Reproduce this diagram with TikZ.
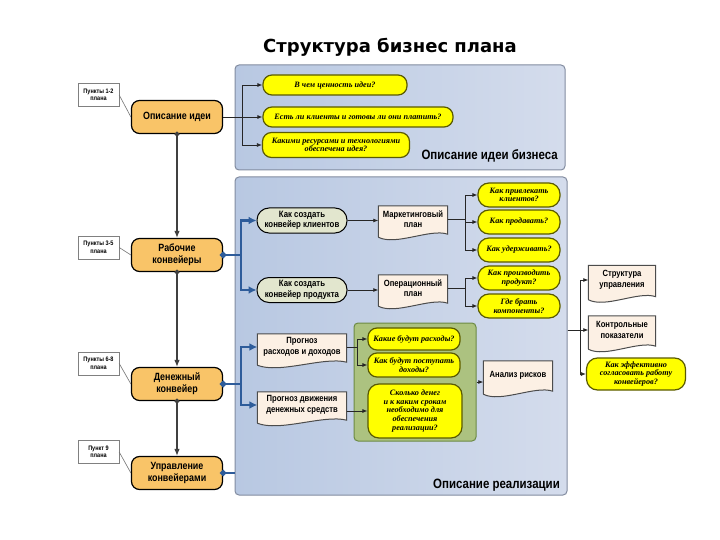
\documentclass[tikz,border=0pt]{standalone}
\usepackage{fontspec}
\setmainfont{Liberation Sans}
\newfontfamily\boxfont[FakeStretch=0.85]{Liberation Sans}
\newfontfamily\askfont{Liberation Serif}
\newfontfamily\titlefont{DejaVu Sans}
\usetikzlibrary{arrows.meta,calc}

\definecolor{stageorange}{RGB}{249,196,104}
\definecolor{askyellow}{RGB}{255,255,0}
\definecolor{askline}{RGB}{90,90,0}
\definecolor{pillfill}{RGB}{226,230,206}
\definecolor{docfill}{RGB}{252,240,228}
\definecolor{panelL}{RGB}{184,200,226}
\definecolor{panelR}{RGB}{212,220,236}
\definecolor{panelline}{RGB}{130,140,160}
\definecolor{cashgreen}{RGB}{172,194,128}
\definecolor{cashline}{RGB}{108,138,68}
\definecolor{flowblue}{RGB}{46,92,154}

% document box: rectangle with a wavy lower edge
\newcommand\docnode[4][]{%
  \node[docbox,#1] (#2) at (#3) {#4};
  \fill[docfill] ([yshift=0.5pt]#2.south west) -- ([yshift=0.5pt]#2.south east)
    -- ([yshift=-2pt]#2.south east)
    .. controls ([yshift=4pt]$(#2.south)!0.5!(#2.south east)$)
       and ([yshift=-14pt]$(#2.south)!0.5!(#2.south west)$) .. ([yshift=-5pt]#2.south west) -- cycle;
  \draw[docline] ([yshift=-5pt]#2.south west) -- (#2.north west) -- (#2.north east)
    -- ([yshift=-2pt]#2.south east)
    .. controls ([yshift=4pt]$(#2.south)!0.5!(#2.south east)$)
       and ([yshift=-14pt]$(#2.south)!0.5!(#2.south west)$) .. ([yshift=-5pt]#2.south west);
}

\begin{document}
\begin{tikzpicture}[x=1pt,y=-1pt,>=Latex,
  stage/.style={rectangle,rounded corners=8pt,draw=black,line width=1.2pt,fill=stageorange,
    minimum width=91pt,minimum height=33pt,inner sep=1pt,align=center,
    font=\boxfont\bfseries\fontsize{10.5}{12}\selectfont},
  note/.style={rectangle,draw=black!50,fill=white,minimum width=41pt,minimum height=23pt,
    inner sep=0pt,align=center,font=\boxfont\bfseries\fontsize{6.5}{7.5}\selectfont},
  ask/.style={rectangle,rounded corners=9pt,draw=askline,line width=1.2pt,fill=askyellow,
    minimum height=20pt,inner sep=1pt,align=center,
    font=\askfont\bfseries\itshape\fontsize{8.2}{8.6}\selectfont},
  pill/.style={rectangle,rounded corners=12pt,draw=black,line width=1pt,fill=pillfill,
    minimum width=90pt,minimum height=25pt,inner sep=1pt,align=center,
    font=\boxfont\bfseries\fontsize{9.2}{10.5}\selectfont},
  docbox/.style={rectangle,fill=docfill,minimum width=69pt,minimum height=26pt,
    inner sep=1pt,align=center,font=\boxfont\bfseries\fontsize{9}{10.5}\selectfont},
  docline/.style={draw=black!70,line width=1pt},
  panel/.style={rectangle,rounded corners=4pt,draw=panelline,line width=1pt,
    left color=panelL,right color=panelR},
  paneltitle/.style={inner sep=0pt,font=\boxfont\bfseries\fontsize{13.5}{15}\selectfont},
  link/.style={draw=black!85,line width=0.8pt,-{Latex[length=5pt,width=4pt]}},
  chain/.style={draw=black!75,line width=1.1pt,shorten <=-2.5pt,
    {Circle[length=5pt]}-{Latex[length=7pt,width=5.5pt]}},
  bluelink/.style={draw=flowblue,line width=2.6pt,shorten <=-3pt,
    {Circle[length=6pt]}-{Latex[length=8pt,width=8pt]}},
  noteline/.style={draw=black!55,line width=0.6pt}]

\fill[white] (0,0) rectangle (720,540);
\useasboundingbox (0,0) rectangle (720,540);

\node[font=\titlefont\bfseries\fontsize{18}{20}\selectfont] (title) at (390,47) {Структура бизнес плана};

% panels
\node[panel,minimum width=330pt,minimum height=105pt] (ideapanel) at (400,117.5) {};
\node[panel,minimum width=332pt,minimum height=318pt] (implpanel) at (401,336) {};
\node[paneltitle,anchor=base east] (ideatitle) at (558,160) {Описание идеи бизнеса};
\node[paneltitle,anchor=base east] (impltitle) at (560,488) {Описание реализации};
\node[rectangle,rounded corners=4pt,draw=cashline,line width=1pt,fill=cashgreen,
  minimum width=122pt,minimum height=118pt] (cashpanel) at (415,382) {};

% stages
\node[stage] (idea) at (177,117) {Описание идеи};
\node[stage] (work) at (177,255) {Рабочие\\конвейеры};
\node[stage] (money) at (177,384) {Денежный\\конвейер};
\node[stage] (mgmt) at (177,473) {Управление\\конвейерами};

\node[note] (n1) at (98.5,95) {Пункты 1-2\\плана};
\node[note] (n2) at (98.5,247.5) {Пункты 3-5\\плана};
\node[note] (n3) at (98.5,363.5) {Пункты 6-8\\плана};
\node[note] (n4) at (98.5,452) {Пункт 9\\плана};

% idea questions
\node[ask,minimum width=144pt] (q1) at (335,85) {В чем ценность идеи?};
\node[ask,minimum width=190pt] (q2) at (358,117) {Есть ли клиенты и готовы ли они платить?};
\node[ask,minimum width=147pt,minimum height=25pt] (q3) at (336,145) {Какими ресурсами и технологиями\\обеспечена идея?};

% working conveyors
\node[pill] (pill1) at (302,220.5) {Как создать\\конвейер клиентов};
\node[pill] (pill2) at (302,290) {Как создать\\конвейер продукта};
\docnode{mkt}{413,219}{Маркетинговый\\план}
\docnode{ops}{413,288}{Операционный\\план}

\node[ask,minimum width=82pt,minimum height=24pt,rounded corners=11pt] (a1) at (519,195) {Как привлекать\\клиентов?};
\node[ask,minimum width=82pt,minimum height=24pt,rounded corners=11pt] (a2) at (519,222) {Как продавать?};
\node[ask,minimum width=82pt,minimum height=24pt,rounded corners=11pt] (a3) at (519,250) {Как удерживать?};
\node[ask,minimum width=82pt,minimum height=24pt,rounded corners=11pt] (b1) at (519,278) {Как производить\\продукт?};
\node[ask,minimum width=82pt,minimum height=24pt,rounded corners=11pt] (b2) at (519,306) {Где брать\\компоненты?};

% money conveyor
\docnode[minimum width=89pt]{prd}{302,347}{Прогноз\\расходов и доходов}
\docnode[minimum width=89pt]{flow}{302,405}{Прогноз движения\\денежных средств}
\node[ask,minimum width=92pt,minimum height=22pt] (g1) at (414,339) {Какие будут расходы?};
\node[ask,minimum width=92pt,minimum height=24pt] (g2) at (414,365) {Как будут поступать\\доходы?};
\node[ask,minimum width=94pt,minimum height=54pt,rounded corners=11pt] (g3) at (415,411) {Сколько денег\\и к каким срокам\\необходимо для\\обеспечения\\реализации?};
\docnode[minimum height=28pt]{risk}{518,375}{Анализ рисков}

% management
\docnode[minimum width=67pt,minimum height=29pt]{struct}{622,280}{Структура\\управления}
\docnode[minimum width=67pt,minimum height=28pt]{ctrl}{622,330}{Контрольные\\показатели}
\node[ask,minimum width=99pt,minimum height=32pt,rounded corners=11pt] (eff) at (636,374) {Как эффективно\\согласовать работу\\конвейеров?};

% connectors
\draw[chain] (idea.south) -- (work.north);
\draw[chain] (work.south) -- (money.north);
\draw[chain] (money.south) -- (mgmt.north);

\draw[noteline] (n1.east) -- (idea.west);
\draw[noteline] (n2.east) -- (work.west);
\draw[noteline] (n3.east) -- (money.west);
\draw[noteline] (n4.east) -- (mgmt.west);

\draw[link] (idea.east) -- ++(19,0) |- (q1.west);
\draw[link] (idea.east) -- (q2.west);
\draw[link] (idea.east) -- ++(19,0) |- (q3.west);

\draw[bluelink] (work.east) -- ++(18,0) |- (pill1.west);
\draw[bluelink] (work.east) -- ++(18,0) |- (pill2.west);
\draw[link] (pill1.east) -- (pill1.east -| mkt.west);
\draw[link] (pill2.east) -- (pill2.east -| ops.west);
\draw[link] (mkt.east) -- ++(18,0) |- (a1.west);
\draw[link] (mkt.east) -- ++(18,0) |- (a2.west);
\draw[link] (mkt.east) -- ++(18,0) |- (a3.west);
\draw[link] (ops.east) -- ++(18,0) |- (b1.west);
\draw[link] (ops.east) -- ++(18,0) |- (b2.west);

\draw[bluelink] (money.east) -- ++(18,0) |- (prd.west);
\draw[bluelink] (money.east) -- ++(18,0) |- (flow.west);
\draw[link] (prd.east) -- ++(11,0) |- (g1.west);
\draw[link] (prd.east) -- ++(11,0) |- (g2.west);
\draw[link] (flow.east |- g3.west) -- (g3.west);
\draw[link] (cashpanel.east) -- (cashpanel.east -| risk.west);

\draw[draw=flowblue,line width=2.6pt,shorten <=-3pt,{Circle[length=6pt]}-] (mgmt.east) -- (mgmt.east -| implpanel.west);

\draw[link] (implpanel.east |- ctrl.west) -- (ctrl.west);
\draw[link] (implpanel.east |- ctrl.west) -- ++(13,0) |- (struct.west);
\draw[link] (implpanel.east |- ctrl.west) -- ++(13,0) |- (eff.west);
\end{tikzpicture}
\end{document}
